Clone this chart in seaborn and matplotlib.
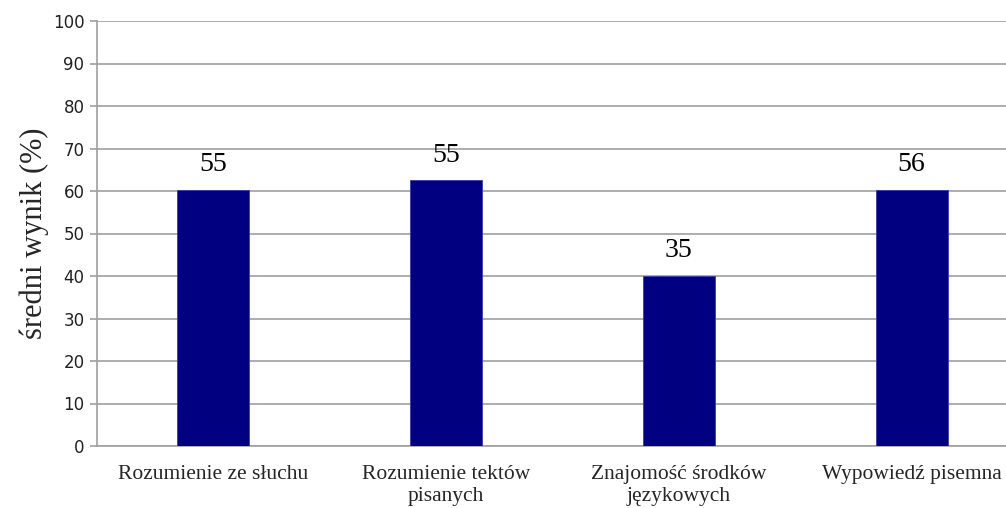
import matplotlib
matplotlib.use("Agg")
import matplotlib.pyplot as plt
import seaborn as sns
import pandas as pd

categories = ["Rozumienie ze słuchu", "Rozumienie tektów\npisanych",
              "Znajomość środków\njęzykowych", "Wypowiedź pisemna"]
bar_heights = [60.3, 62.5, 40.0, 60.3]
bar_labels = ["55", "55", "35", "56"]
y_ticks = [0, 10, 20, 30, 40, 50, 60, 70, 80, 90, 100]

df = pd.DataFrame({"kategoria": categories, "wynik": bar_heights})

sns.set_theme(style="white")
fig = plt.figure(figsize=(10.06, 5.08), dpi=100)
ax = fig.add_axes([97/1006, 1-446/508, (1028-97)/1006, (446-21)/508])

sns.barplot(data=df, x="kategoria", y="wynik", color="#000080", width=0.31,
            saturation=1, edgecolor="#3b3bb0", linewidth=0.6, ax=ax, zorder=3)

for i, (h, lab) in enumerate(zip(bar_heights, bar_labels)):
    ax.text(i, h + 3.0, lab, ha="center", va="bottom",
            fontsize=20, family="Liberation Serif", color="black")

ax.set_xlim(-0.5, 3.5)
ax.set_ylim(0, 100)
ax.set_yticks(y_ticks)
ax.set_yticklabels([str(t) for t in y_ticks], fontsize=12, family="DejaVu Sans", color="#222222")
ax.yaxis.grid(True, color="#a0a0a0", linewidth=1.2, zorder=0)
ax.xaxis.grid(False)
for s in ["top", "right"]:
    ax.spines[s].set_visible(False)
for s in ["left", "bottom"]:
    ax.spines[s].set_color("#a0a0a0")
    ax.spines[s].set_linewidth(1.2)
ax.tick_params(axis="y", which="both", left=True, length=5, width=1.2, color="#a0a0a0", pad=4)
ax.tick_params(axis="x", bottom=False, pad=8)
for lbl in ax.get_xticklabels():
    lbl.set_fontfamily("Liberation Serif")
    lbl.set_fontsize(15.5)
    lbl.set_linespacing(1.2)
ax.set_xlabel("")
ax.set_ylabel("średni wynik (%)", fontsize=22, family="Liberation Serif", labelpad=3)

fig.savefig("out.png", dpi=100)
